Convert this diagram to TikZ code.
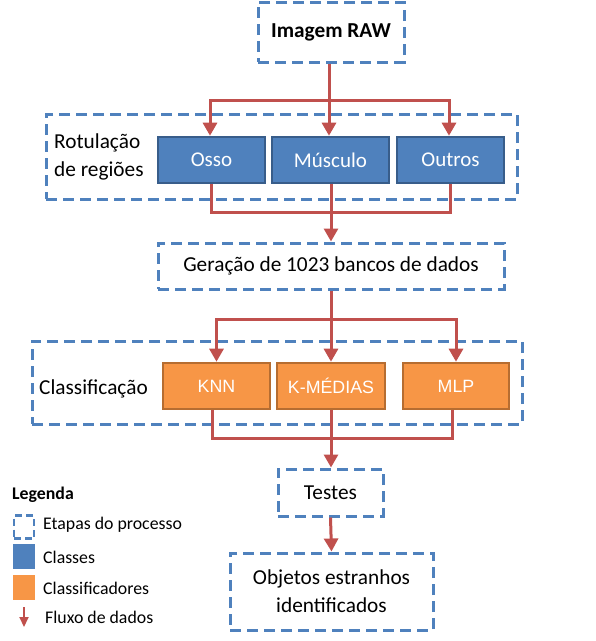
\documentclass[tikz,border=0pt]{standalone}
\usepackage{fontspec}
\setmainfont{Carlito}
\newfontfamily\arialf{Liberation Sans}
\usetikzlibrary{arrows.meta}
\definecolor{obl}{HTML}{4F81BD}
\definecolor{obld}{HTML}{385D8A}
\definecolor{oor}{HTML}{F79646}
\definecolor{oord}{HTML}{B66D31}
\definecolor{ored}{HTML}{C0504D}
\tikzset{
  stage/.style={draw=obl, line width=3pt, dash pattern=on 11pt off 6pt, inner sep=0pt, font=\fontsize{21.3}{28}\selectfont, align=center},
  cls/.style={draw=obld, fill=obl, line width=2.6pt, text=white, inner sep=0pt, minimum height=46pt, font=\fontsize{21}{26}\selectfont},
  clf/.style={draw=oord, fill=oor, line width=2.6pt, text=white, inner sep=0pt, minimum height=46pt, font=\arialf\fontsize{17.8}{22}\selectfont},
  flow/.style={draw=ored, line width=3pt, -{Triangle[width=14pt,length=13pt]}},
  link/.style={draw=ored, line width=3pt},
  lbl/.style={font=\fontsize{21.3}{28}\selectfont, align=left, inner sep=0pt},
  legt/.style={font=\fontsize{17.8}{22}\selectfont, anchor=west, inner sep=0pt},
}
\begin{document}
\begin{tikzpicture}[x=1pt,y=-1pt]
\useasboundingbox (0,0) rectangle (596,641);
% stages
\node[stage, minimum width=146pt, minimum height=60pt, font=\bfseries\fontsize{21.3}{28}\selectfont] (raw) at (331,32) {Imagem RAW};
\node[stage, minimum width=471pt, minimum height=85pt] (rot) at (281.5,156.5) {};
\node[lbl, anchor=west] (rotl) at (54,157) {Rotulação\\de regiões};
\node[cls, minimum width=107pt] (osso) at (211.5,160) {Osso};
\node[cls, minimum width=117pt] (musc) at (330.5,160) {Músculo};
\node[cls, minimum width=107pt] (outr) at (450.5,160) {Outros};
\node[stage, minimum width=346pt, minimum height=46pt] (ger) at (331,266) {Geração de 1023 bancos de dados};
\node[stage, minimum width=490pt, minimum height=83pt] (clb) at (277,382.5) {};
\node[lbl, anchor=west] (clbl) at (39,389) {Classificação};
\node[clf, minimum width=107pt] (knn) at (216.5,386) {KNN};
\node[clf, minimum width=108pt] (kmed) at (331,386) {K-MÉDIAS};
\node[clf, minimum width=106pt] (mlp) at (456,386) {MLP};
\node[stage, minimum width=105pt, minimum height=47pt] (test) at (330.5,492.5) {Testes};
\node[stage, minimum width=203pt, minimum height=77pt] (obj) at (331.5,591.5) {Objetos estranhos\\identificados};
% connectors top
\coordinate (s1) at (329,100);
\draw[link] (raw.south -| s1) -- (s1);
\draw[flow] (s1) -- (s1 |- musc.north);
\draw[flow] (s1) -| ([xshift=-1.5pt]osso.north);
\draw[flow] (s1) -| ([xshift=-1.5pt]outr.north);
\coordinate (m1) at (331,212);
\draw[link] (osso.south) |- (m1);
\draw[link] (outr.south) |- (m1);
\draw[link] (musc.south -| m1) -- (m1);
\draw[flow] (m1) -- (m1 |- ger.north);
% connectors middle
\coordinate (s2) at (331,319);
\draw[link] (ger.south -| s2) -- (s2);
\draw[flow] (s2) -- (s2 |- kmed.north);
\draw[flow] (s2) -| (knn.north);
\draw[flow] (s2) -| (mlp.north);
\coordinate (m2) at (331,438);
\draw[link] ([xshift=-4.5pt]knn.south) |- (m2);
\draw[link] ([xshift=-4pt]mlp.south) |- (m2);
\draw[link] (kmed.south -| m2) -- (m2);
\draw[flow] (m2) -- (m2 |- test.north);
\draw[flow] (test.south) -- (obj.north);
% legend
\node[font=\bfseries\fontsize{17.8}{22}\selectfont, anchor=west, inner sep=0pt] (leg) at (12,495) {Legenda};
\node[draw=obl, line width=2.4pt, dash pattern=on 7pt off 4pt, minimum width=20pt, minimum height=23pt, inner sep=0pt] (lg1) at (24,527) {};
\node[legt] (lt1) at (43,524.5) {Etapas do processo};
\node[fill=obl, minimum width=22pt, minimum height=25pt, inner sep=0pt] (lg2) at (24,556.5) {};
\node[legt] (lt2) at (43,557) {Classes};
\node[fill=oor, minimum width=22pt, minimum height=25pt, inner sep=0pt] (lg3) at (24,587) {};
\node[legt] (lt3) at (43,588.5) {Classificadores};
\coordinate (la1) at (24,607);
\coordinate (la2) at (24,627);
\draw[draw=ored, line width=2pt, -{Triangle[width=9pt,length=10pt]}] (la1) -- (la2);
\node[legt] (lt4) at (45,617) {Fluxo de dados};
\end{tikzpicture}
\end{document}
